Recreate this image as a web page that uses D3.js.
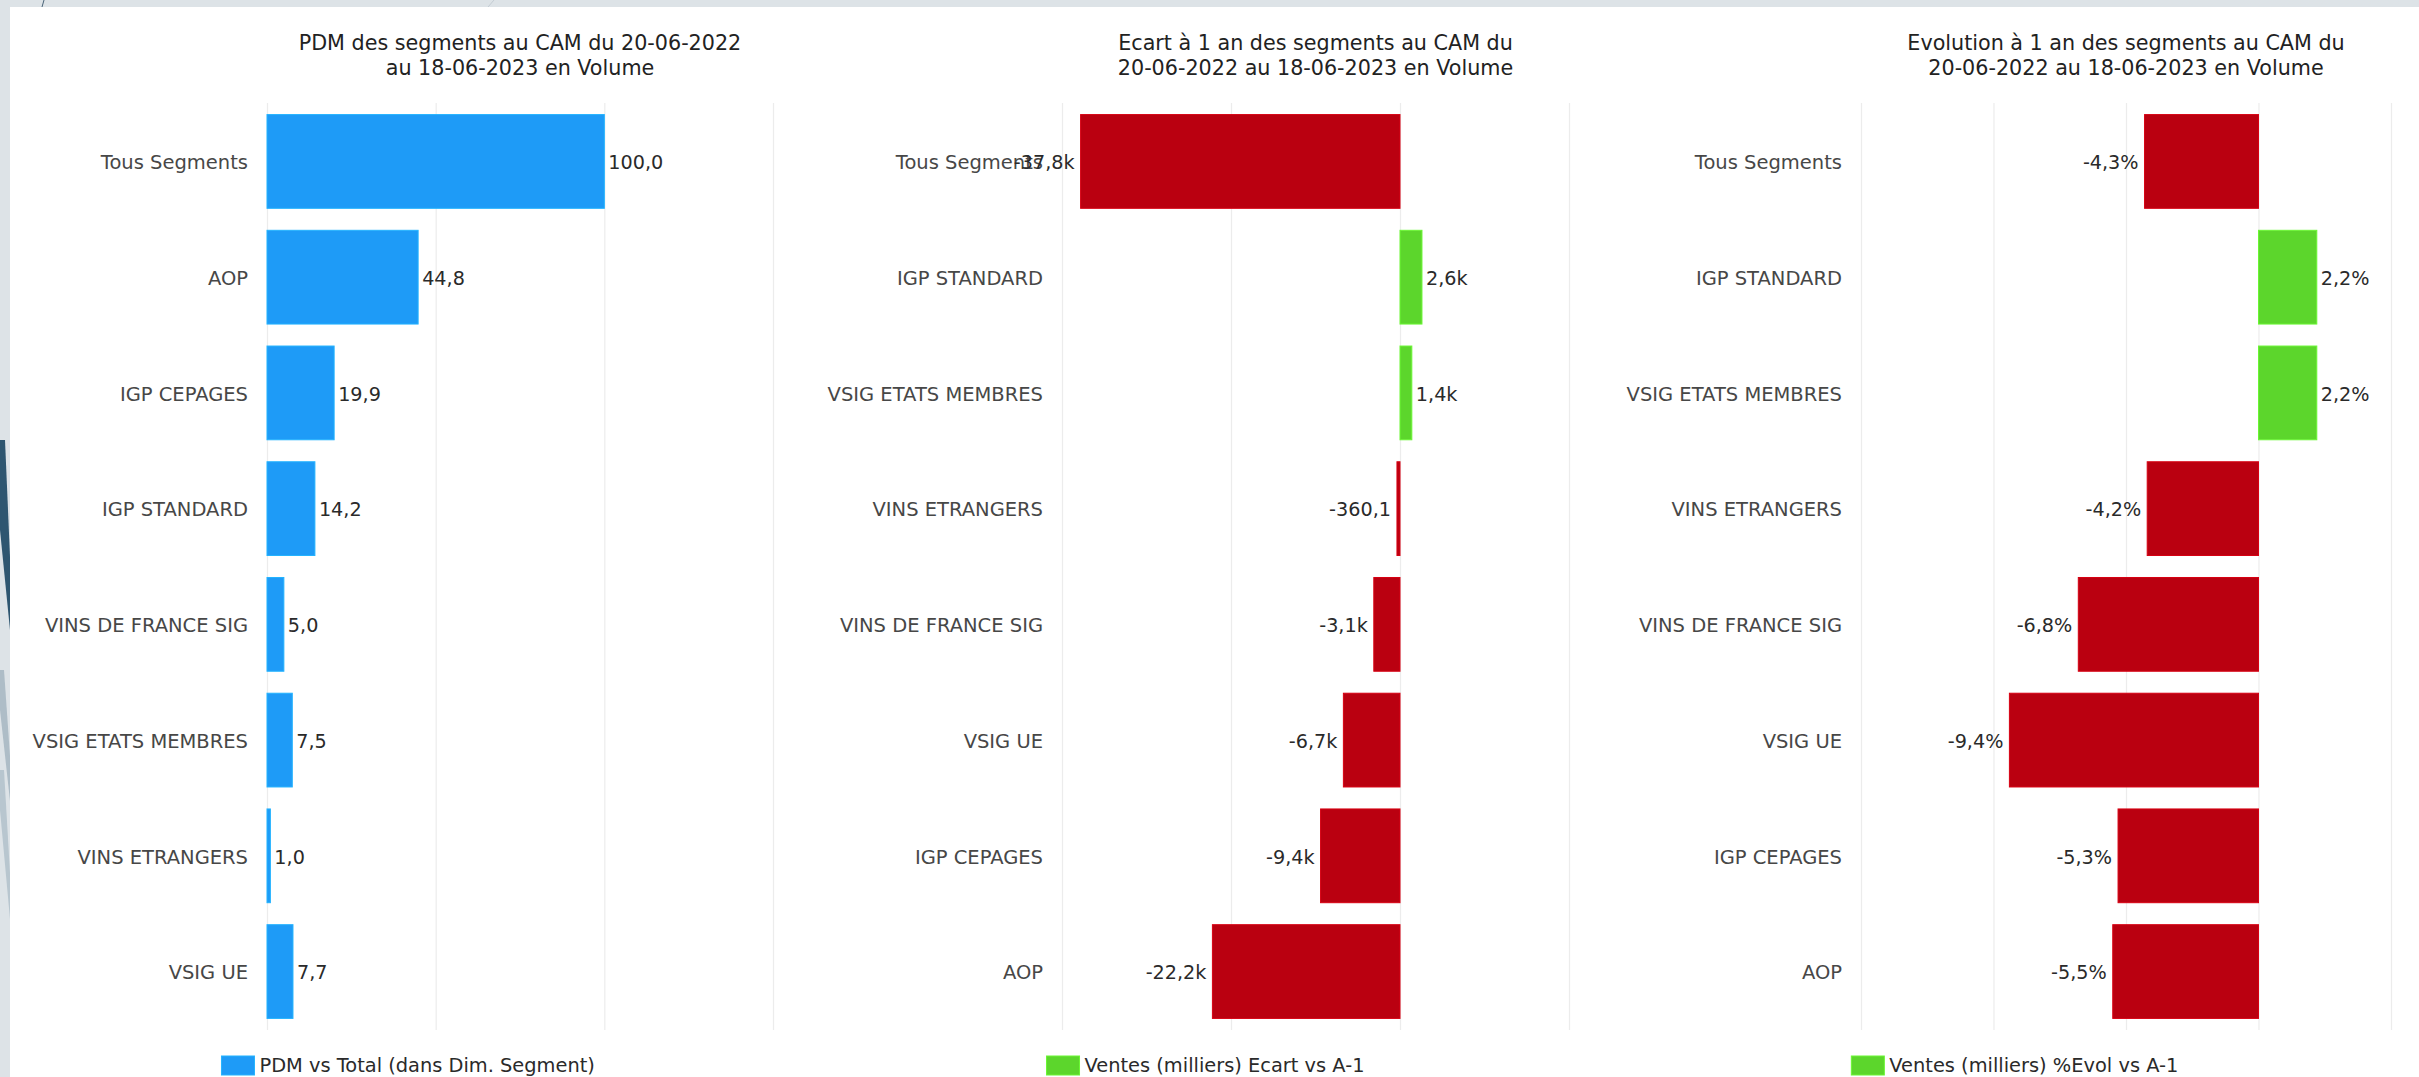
<!DOCTYPE html>
<html>
<head>
<meta charset="utf-8">
<script src="https://cdn.jsdelivr.net/npm/d3@7"></script>
<style>
  html, body { margin: 0; padding: 0; background: #dde3e7; overflow: hidden; }
  svg { display: block; font-family: "DejaVu Sans", sans-serif; }
</style>
</head>
<body>
<svg id="chart" width="2419" height="1077"></svg>
<script>
// ---------- DATA ----------
const titles1 = ["PDM des segments au CAM du 20-06-2022", "au 18-06-2023 en Volume"];
const titles2 = ["Ecart à 1 an des segments au CAM du", "20-06-2022 au 18-06-2023 en Volume"];
const titles3 = ["Evolution à 1 an des segments au CAM du", "20-06-2022 au 18-06-2023 en Volume"];

const categories1 = ["Tous Segments", "AOP", "IGP CEPAGES", "IGP STANDARD", "VINS DE FRANCE SIG", "VSIG ETATS MEMBRES", "VINS ETRANGERS", "VSIG UE"];
const values1 = [100.0, 44.8, 19.9, 14.2, 5.0, 7.5, 1.0, 7.7];

const categories2 = ["Tous Segments", "IGP STANDARD", "VSIG ETATS MEMBRES", "VINS ETRANGERS", "VINS DE FRANCE SIG", "VSIG UE", "IGP CEPAGES", "AOP"];
const values2 = [-37800, 2600, 1400, -360.1, -3100, -6700, -9400, -22200];

const categories3 = ["Tous Segments", "IGP STANDARD", "VSIG ETATS MEMBRES", "VINS ETRANGERS", "VINS DE FRANCE SIG", "VSIG UE", "IGP CEPAGES", "AOP"];
const values3 = [-4.3, 2.2, 2.2, -4.2, -6.8, -9.4, -5.3, -5.5];

const ticks1 = [0, 50, 100, 150];
const ticks2 = [-40000, -20000, 0, 20000];
const ticks3 = [-15, -10, -5, 0, 5];

const legend1 = "PDM vs Total (dans Dim. Segment)";
const legend2 = "Ventes (milliers) Ecart vs A-1";
const legend3 = "Ventes (milliers) %Evol vs A-1";

// ---------- STYLE / LAYOUT ----------
const BLUE = "#1e9bf7", RED = "#ba0010", GREEN = "#5cd62c";
const W = 2419, H = 1077;
const plotTop = 103, plotBottom = 1030;
const panelW = W / 3;

const svg = d3.select("#chart");

// background card & decorations
svg.append("rect").attr("x", 0).attr("y", 0).attr("width", W).attr("height", H).attr("fill", "#dde3e7");
svg.append("polygon").attr("points", "0,440 5,440 11,580 11,640 0,530").attr("fill", "#2e5670");
svg.append("polygon").attr("points", "0,670 4,670 11,770 11,810 0,710").attr("fill", "#aebdc7");
svg.append("polygon").attr("points", "0,770 4,770 11,890 11,930 0,810").attr("fill", "#b8c6cf");
svg.append("line").attr("x1", 44).attr("y1", 0).attr("x2", 42).attr("y2", 7).attr("stroke", "#4a6478").attr("stroke-width", 1);
svg.append("line").attr("x1", 494).attr("y1", 0).attr("x2", 488).attr("y2", 7).attr("stroke", "#c3ccd3").attr("stroke-width", 1);
svg.append("rect").attr("x", 10).attr("y", 7).attr("width", W - 10).attr("height", H - 7).attr("fill", "#ffffff");

const fmtComma = s => s.replace(".", ",");
const fmt1 = v => fmtComma(v.toFixed(1));
const fmt2 = v => Math.abs(v) >= 1000 ? fmtComma((v / 1000).toFixed(1)) + "k" : fmtComma(v.toFixed(1));
const fmt3 = v => fmtComma(v.toFixed(1)) + "%";

function panel(opts) {
  const g = svg.append("g");
  const x = d3.scaleLinear().domain(opts.domain).range(opts.range);
  const y = d3.scaleBand().domain(opts.categories).range([plotTop, plotBottom])
              .paddingInner(0.19).paddingOuter(0.1);

  // gridlines
  const grid = g.append("g").attr("transform", `translate(0,${plotBottom})`)
    .call(d3.axisBottom(x).tickValues(opts.ticks).tickSize(-(plotBottom - plotTop)).tickFormat(""));
  grid.select(".domain").remove();
  grid.selectAll(".tick line").attr("stroke", "#ececec").attr("stroke-width", 1.2);

  // title
  const cx = (opts.range[0] + opts.range[1]) / 2;
  const t = g.append("text").attr("text-anchor", "middle").attr("fill", "#222")
    .style("font-size", "20.7px");
  opts.title.forEach((line, i) => {
    t.append("tspan").attr("x", cx).attr("y", 50 + i * 25).text(line);
  });

  const data = opts.categories.map((c, i) => ({ c, v: opts.values[i] }));

  // bars
  g.selectAll("rect.bar").data(data).enter().append("rect")
    .attr("class", "bar")
    .attr("x", d => x(Math.min(0, d.v)))
    .attr("width", d => Math.abs(x(d.v) - x(0)))
    .attr("y", d => y(d.c))
    .attr("height", y.bandwidth())
    .attr("fill", d => opts.color(d.v))
    .attr("stroke", d => d3.color(opts.color(d.v)).brighter(0.4))
    .attr("stroke-width", 1);

  // category labels
  g.selectAll("text.cat").data(data).enter().append("text")
    .attr("class", "cat")
    .attr("x", opts.range[0] - 19)
    .attr("y", d => y(d.c) + y.bandwidth() / 2 + 1)
    .attr("dy", "0.35em")
    .attr("text-anchor", "end")
    .attr("fill", "#474747")
    .style("font-size", "19.5px")
    .text(d => d.c);

  // value labels
  g.selectAll("text.val").data(data).enter().append("text")
    .attr("class", "val")
    .attr("x", d => d.v >= 0 ? x(d.v) + 4 : x(d.v) - 6)
    .attr("y", d => y(d.c) + y.bandwidth() / 2 + 1)
    .attr("dy", "0.35em")
    .attr("text-anchor", d => d.v >= 0 ? "start" : "end")
    .attr("fill", "#2a2a2a")
    .style("font-size", "19.2px")
    .text(d => opts.fmt(d.v));

  // legend
  const lg = g.append("g");
  lg.append("rect").attr("x", 0).attr("y", 1056).attr("width", 33).attr("height", 19)
    .attr("fill", opts.legendColor).attr("stroke", d3.color(opts.legendColor).brighter(0.4));
  const lt = lg.append("text").attr("x", 38).attr("y", 1065).attr("dy", "0.35em")
    .attr("fill", "#2a2a2a").style("font-size", "19.4px").text(opts.legend);
  const lw = 38 + lt.node().getComputedTextLength();
  lg.attr("transform", `translate(${opts.panelCenter - lw / 2},0)`);
}

panel({
  title: titles1, categories: categories1, values: values1, ticks: ticks1,
  domain: [0, 150], range: [267, 773], fmt: fmt1,
  color: () => BLUE, legend: legend1, legendColor: BLUE, panelCenter: panelW * 0.5 + 5
});
panel({
  title: titles2, categories: categories2, values: values2, ticks: ticks2,
  domain: [-40000, 20000], range: [1062, 1569], fmt: fmt2,
  color: v => v < 0 ? RED : GREEN, legend: legend2, legendColor: GREEN, panelCenter: panelW * 1.5 - 4
});
panel({
  title: titles3, categories: categories3, values: values3, ticks: ticks3,
  domain: [-15, 5], range: [1861, 2391], fmt: fmt3,
  color: v => v < 0 ? RED : GREEN, legend: legend3, legendColor: GREEN, panelCenter: panelW * 2.5 - 1
});
</script>
</body>
</html>
